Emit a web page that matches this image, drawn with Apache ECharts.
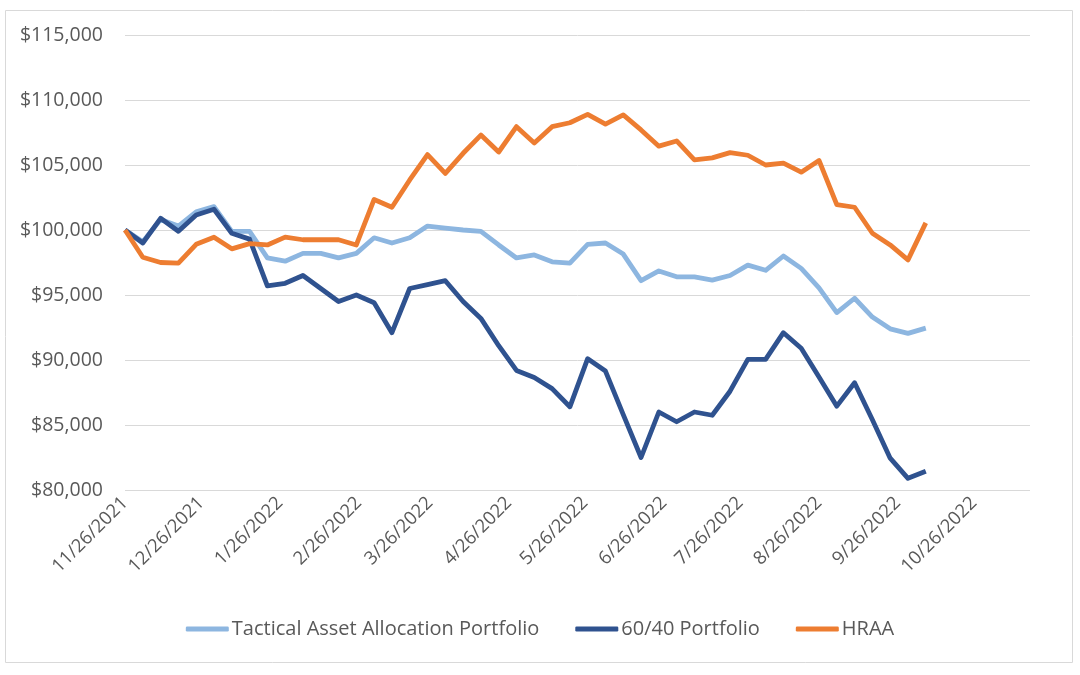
<!DOCTYPE html>
<html>
<head>
<meta charset="utf-8">
<script src="https://cdn.jsdelivr.net/npm/echarts@6/dist/echarts.min.js"></script>
<style>
html,body{margin:0;padding:0;background:#fff;}
#chart{width:1080px;height:675px;}
</style>
</head>
<body>
<div id="chart"></div>
<script>
// Weekly observation dates
var dates = [
 '11/26/2021','12/3/2021','12/10/2021','12/17/2021','12/24/2021','12/31/2021',
 '1/7/2022','1/14/2022','1/21/2022','1/28/2022','2/4/2022','2/11/2022','2/18/2022','2/25/2022',
 '3/4/2022','3/11/2022','3/18/2022','3/25/2022','4/1/2022','4/8/2022','4/15/2022','4/22/2022','4/29/2022',
 '5/6/2022','5/13/2022','5/20/2022','5/27/2022','6/3/2022','6/10/2022','6/17/2022','6/24/2022',
 '7/1/2022','7/8/2022','7/15/2022','7/22/2022','7/29/2022','8/5/2022','8/12/2022','8/19/2022','8/26/2022',
 '9/2/2022','9/9/2022','9/16/2022','9/23/2022','9/30/2022','10/7/2022'
];

var taa = [
 100000, 99100, 100800, 100300, 101400, 101800,
 99900, 99900, 97850, 97600, 98200, 98200, 97850, 98200,
 99400, 99000, 99400, 100300, 100150, 100000, 99900, 98850, 97850,
 98080, 97550, 97450, 98900, 99000, 98150, 96100, 96850,
 96400, 96400, 96150, 96500, 97300, 96900, 98000, 97050, 95550,
 93650, 94750, 93300, 92400, 92050, 92450
];

var p6040 = [
 100000, 99000, 100900, 99900, 101150, 101600,
 99750, 99300, 95700, 95900, 96500, 95500, 94500, 95000,
 94400, 92100, 95500, 95800, 96100, 94500, 93200, 91100, 89200,
 88650, 87800, 86400, 90100, 89150, 85800, 82500, 86000,
 85250, 86000, 85750, 87600, 90050, 90050, 92100, 90900, 88700,
 86450, 88250, 85400, 82450, 80900, 81450
];

var hraa = [
 100000, 97900, 97500, 97450, 98900, 99450,
 98550, 98950, 98850, 99450, 99250, 99250, 99250, 98850,
 102350, 101750, 103850, 105800, 104350, 105900, 107300, 106000, 107950,
 106700, 107950, 108250, 108900, 108150, 108850, 107700, 106450,
 106850, 105400, 105550, 105950, 105750, 105000, 105150, 104450, 105350,
 101950, 101750, 99750, 98850, 97700, 100550
];

var tickLabels = ['11/26/2021','12/26/2021','1/26/2022','2/26/2022','3/26/2022','4/26/2022',
 '5/26/2022','6/26/2022','7/26/2022','8/26/2022','9/26/2022','10/26/2022'];

var seriesNames = ['Tactical Asset Allocation Portfolio', '60/40 Portfolio', 'HRAA'];

// Daily date axis scaffold (11/26/2021 .. 11/17/2022)
var axisStart = Date.UTC(2021, 10, 26);
var axisDays = 356;
var dayCats = [];
for (var d = 0; d <= axisDays; d++) {
  var dt = new Date(axisStart + d * 86400000);
  dayCats.push((dt.getUTCMonth() + 1) + '/' + dt.getUTCDate() + '/' + dt.getUTCFullYear());
}
var catIndex = {};
dayCats.forEach(function (c, i) { catIndex[c] = i; });

function toPairs(vals) {
  return dates.map(function (dd, i) { return [catIndex[dd], vals[i]]; });
}

function money(v) {
  return '$' + String(v).replace(/\B(?=(\d{3})+(?!\d))/g, ',');
}

var chart = echarts.init(document.getElementById('chart'), null, {renderer: 'canvas'});
var font = '"Open Sans", "Noto Sans", sans-serif';
chart.setOption({
  animation: false,
  textStyle: {fontFamily: font},
  graphic: [{
    type: 'rect', silent: true,
    shape: {x: 5.5, y: 10.5, width: 1067, height: 652},
    style: {fill: 'none', stroke: '#D9D9D9', lineWidth: 1}
  }],
  grid: {left: 125, right: 50, top: 35, bottom: 185},
  legend: {
    bottom: 31, left: 'center',
    icon: 'roundRect', itemWidth: 43, itemHeight: 5, itemGap: 36,
    textStyle: {fontFamily: font, fontSize: 20, color: '#595959', padding: [0, 0, 0, -2]},
    data: seriesNames
  },
  xAxis: {
    type: 'category',
    data: dayCats,
    boundaryGap: false,
    axisLine: {show: false},
    axisTick: {show: false},
    splitLine: {show: false},
    axisLabel: {
      interval: function (idx, val) { return tickLabels.indexOf(val) >= 0; },
      rotate: 45,
      margin: 10,
      color: '#595959',
      fontFamily: font,
      fontSize: 18.5
    }
  },
  yAxis: {
    type: 'value',
    min: 80000, max: 115000, interval: 5000,
    axisLine: {show: false},
    axisTick: {show: false},
    splitLine: {lineStyle: {color: '#D9D9D9', width: 1}},
    axisLabel: {
      formatter: money,
      color: '#595959',
      fontFamily: font,
      fontSize: 19.5,
      margin: 22
    }
  },
  series: [
    {name: seriesNames[0], type: 'line', data: toPairs(taa), showSymbol: false, symbol: 'none',
     lineStyle: {width: 4.8, color: '#8DB6E0', join: 'round'}, itemStyle: {color: '#8DB6E0'}},
    {name: seriesNames[1], type: 'line', data: toPairs(p6040), showSymbol: false, symbol: 'none',
     lineStyle: {width: 4.8, color: '#2F528F', join: 'round'}, itemStyle: {color: '#2F528F'}},
    {name: seriesNames[2], type: 'line', data: toPairs(hraa), showSymbol: false, symbol: 'none',
     lineStyle: {width: 4.8, color: '#ED7D31', join: 'round'}, itemStyle: {color: '#ED7D31'}}
  ]
});
</script>
</body>
</html>
